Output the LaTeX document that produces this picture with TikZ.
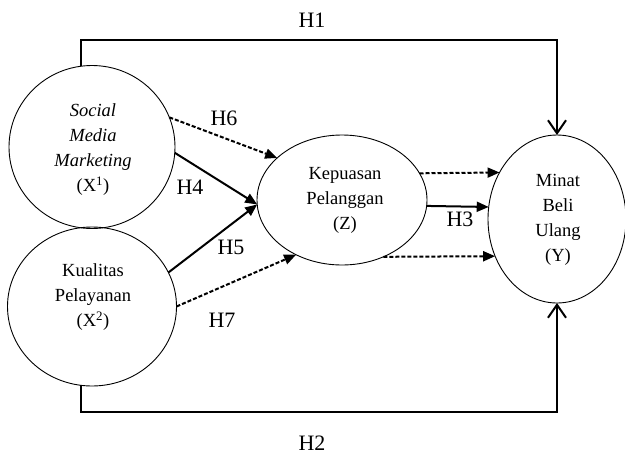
\documentclass[tikz,border=0pt]{standalone}
\usepackage{fontspec}
\setmainfont{Liberation Serif}
\usetikzlibrary{shapes.geometric,arrows.meta}
\begin{document}
\begin{tikzpicture}[x=1pt,y=-1pt,
  ell/.style={draw, ellipse, line width=0.9pt, outer sep=0pt, inner sep=0pt},
  txt/.style={font=\fontsize{18.5}{25}\selectfont, align=center, inner sep=0pt},
  lab/.style={font=\fontsize{22}{24}\selectfont, inner sep=0pt},
  big/.style={line width=2pt, -{Straight Barb[length=13pt,width=18pt,line width=2pt]}},
  solidarr/.style={line width=2pt, -{Triangle[length=12pt,width=10pt]}},
  dasharr/.style={line width=2pt, dashed, dash pattern=on 4pt off 2pt, -{Triangle[length=12pt,width=10pt]}}
]
\useasboundingbox (0,0) rectangle (625,467);
% ellipses
\node[ell, minimum width=166pt, minimum height=163pt] (x1) at (92,147) {};
\node[ell, minimum width=169pt, minimum height=159pt] (x2) at (92,306.5) {};
\node[ell, minimum width=170pt, minimum height=130pt] (z) at (342,200) {};
\node[ell, minimum width=138pt, minimum height=168pt] (y) at (557,219) {};
% texts
\node[txt] (x1t) at (93,150) {\textit{Social}\\\textit{Media}\\\textit{Marketing}\\(X\textsuperscript{1})};
\node[txt] (x2t) at (93,297) {Kualitas\\Pelayanan\\(X\textsuperscript{2})};
\node[txt] (zt) at (345,200) {Kepuasan\\Pelanggan\\(Z)};
\node[txt] (yt) at (558,219.5) {Minat\\Beli\\Ulang\\(Y)};
% helper coordinates
\coordinate (h1y) at (0,40);
\coordinate (h2y) at (0,412);
% H1, H2
\draw[big] (x1.98) -- (x1.98 |- h1y) -| (y.north);
\draw[big] (x2.262) -- (x2.262 |- h2y) -| (y.south);
% inner arrows
\draw[dasharr] (x1.21) -- (z.147);
\draw[solidarr] (x1.-4) -- (z.183);
\draw[solidarr] (x2.24) -- (z.183);
\draw[dasharr] (x2.0) -- (z.230);
\draw[dasharr] (z.19.6) -- (y.141.1);
\draw[solidarr] (z.-4.7) -- (y.170);
\draw[dasharr] (z.-54.3) -- (y.211.7);
% labels
\node[lab] (lh1) at (312,20) {H1};
\node[lab] (lh2) at (312,443) {H2};
\node[lab] (lh6) at (224,118) {H6};
\node[lab] (lh4) at (190,187) {H4};
\node[lab] (lh5) at (231,247) {H5};
\node[lab] (lh7) at (222,320) {H7};
\node[lab] (lh3) at (460,219) {H3};
\end{tikzpicture}
\end{document}
